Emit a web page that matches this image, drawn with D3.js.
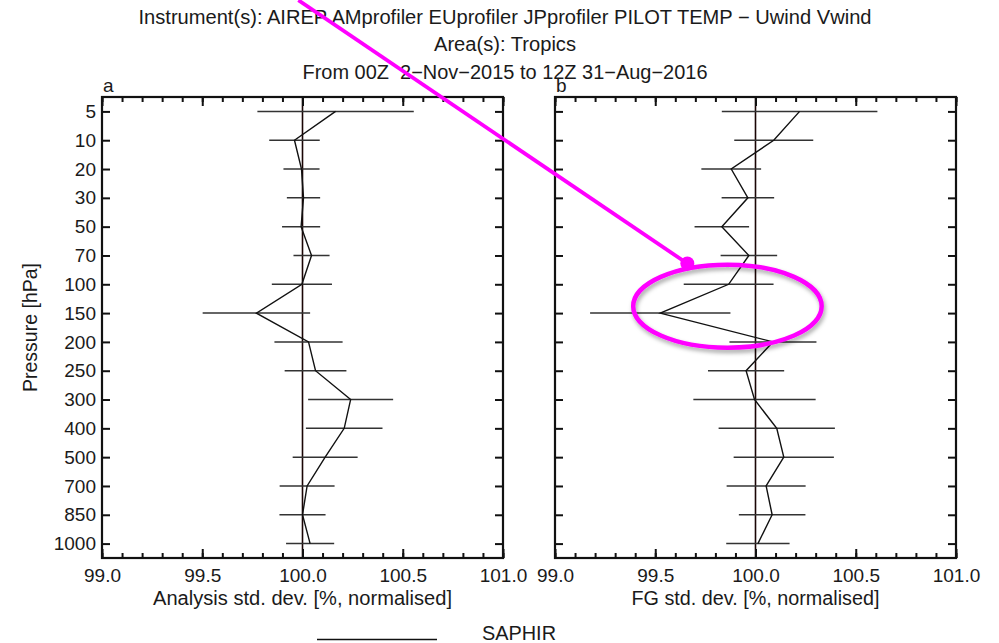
<!DOCTYPE html>
<html>
<head>
<meta charset="utf-8">
<script src="https://cdn.jsdelivr.net/npm/d3@7"></script>
<style>
  html, body { margin: 0; padding: 0; background: #fff; }
  svg { display: block; }
  text { font-family: "Liberation Sans", Arial, Helvetica, sans-serif; fill: #1a1a1a; }
</style>
</head>
<body>
<svg id="chart" width="999" height="643"></svg>
<script>
// ---------------- data ----------------
const levels = ["5","10","20","30","50","70","100","150","200","250","300","400","500","700","850","1000"];
const analysisMean = [100.165, 99.96, 99.995, 100.005, 99.993, 100.045, 99.997, 99.77, 100.03, 100.065, 100.24, 100.208, 100.113, 100.023, 100.0, 100.038];
const analysisErr  = [0.39, 0.126, 0.09, 0.083, 0.095, 0.09, 0.15, 0.268, 0.17, 0.154, 0.212, 0.191, 0.162, 0.137, 0.115, 0.12];
const fgMean = [100.22, 100.091, 99.879, 99.962, 99.832, 99.967, 99.866, 99.525, 100.087, 99.953, 99.995, 100.106, 100.141, 100.053, 100.083, 100.012];
const fgErr  = [0.388, 0.197, 0.149, 0.131, 0.136, 0.141, 0.224, 0.35, 0.217, 0.19, 0.305, 0.29, 0.25, 0.197, 0.166, 0.158];
const xMajorTicks = [99.0, 99.5, 100.0, 100.5, 101.0];
const xMinorTicks = d3.range(0, 21).map(i => +(99 + i * 0.1).toFixed(1));
const titleLines = [
  "Instrument(s): AIREP AMprofiler EUprofiler JPprofiler PILOT TEMP \u2212 Uwind Vwind",
  "Area(s): Tropics",
  "From 00Z  2\u2212Nov\u22122015 to 12Z 31\u2212Aug\u22122016"
];
const panelLetters = ["a", "b"];
const xLabels = ["Analysis std. dev. [%, normalised]", "FG std. dev. [%, normalised]"];
const yLabel = "Pressure [hPa]";
const legendName = "SAPHIR";

// ---------------- layout ----------------
const svg = d3.select("#chart");
const yTop = 97, yBottom = 558;
const panels = [
  { left: 102, right: 503, mean: analysisMean, err: analysisErr, letter: panelLetters[0], xlabel: xLabels[0], xlabelLen: 299, yLabels: true },
  { left: 555, right: 956, mean: fgMean, err: fgErr, letter: panelLetters[1], xlabel: xLabels[1], xlabelLen: 248, yLabels: false }
];
const FS = 19;
const TFS = 19.5;
const titleLens = [733, 142, 405];

const y = d3.scalePoint().domain(levels).range([yTop, yBottom]).padding(0.5);

// titles
svg.append("g").selectAll("text").data(titleLines).join("text")
  .attr("x", 505).attr("y", (d, i) => 23.5 + i * 27.7)
  .attr("text-anchor", "middle").style("font-size", TFS + "px")
  .style("white-space", "pre").attr("xml:space", "preserve")
  .attr("textLength", (d, i) => titleLens[i]).attr("lengthAdjust", "spacingAndGlyphs")
  .text(d => d);

panels.forEach(p => {
  const x = d3.scaleLinear().domain([99, 101]).range([p.left, p.right]);
  p.x = x;
  const g = svg.append("g");

  // vertical reference line at 100
  g.append("line")
    .attr("x1", x(100)).attr("x2", x(100)).attr("y1", yTop).attr("y2", yBottom)
    .attr("stroke", "#1a0505").attr("stroke-width", 1.6);

  // error bars
  g.append("g").selectAll("line").data(levels).join("line")
    .attr("x1", (d, i) => x(p.mean[i] - p.err[i]))
    .attr("x2", (d, i) => x(p.mean[i] + p.err[i]))
    .attr("y1", d => y(d)).attr("y2", d => y(d))
    .attr("stroke", "#333").attr("stroke-width", 1.5);

  // profile line
  g.append("path")
    .datum(levels)
    .attr("fill", "none").attr("stroke", "#111").attr("stroke-width", 1.4)
    .attr("d", d3.line().x((d, i) => x(p.mean[i])).y(d => y(d)));

  // axes: bottom
  g.append("g").attr("transform", `translate(0,${yBottom})`)
    .call(d3.axisBottom(x).tickValues(xMinorTicks).tickSize(-5).tickFormat(""))
    .call(a => a.select(".domain").remove());
  g.append("g").attr("transform", `translate(0,${yBottom})`)
    .call(d3.axisBottom(x).tickValues(xMajorTicks).tickSize(-9).tickPadding(11).tickFormat(d3.format(".1f")))
    .call(a => a.select(".domain").remove())
    .call(a => a.selectAll("text").style("font-size", FS + "px").attr("fill", "#1a1a1a"));
  // top
  g.append("g").attr("transform", `translate(0,${yTop})`)
    .call(d3.axisTop(x).tickValues(xMinorTicks).tickSize(-5).tickFormat(""))
    .call(a => a.select(".domain").remove());
  g.append("g").attr("transform", `translate(0,${yTop})`)
    .call(d3.axisTop(x).tickValues(xMajorTicks).tickSize(-9).tickFormat(""))
    .call(a => a.select(".domain").remove());
  // left
  const leftAx = g.append("g").attr("transform", `translate(${p.left},0)`)
    .call(d3.axisLeft(y).tickSize(-8).tickPadding(6))
    .call(a => a.select(".domain").remove());
  leftAx.selectAll("text").style("font-size", FS + "px").attr("fill", "#1a1a1a");
  if (!p.yLabels) leftAx.selectAll("text").remove();
  // right
  g.append("g").attr("transform", `translate(${p.right},0)`)
    .call(d3.axisRight(y).tickSize(-8).tickFormat(""))
    .call(a => a.select(".domain").remove());

  g.selectAll(".tick line").attr("stroke", "#111").attr("stroke-width", 2);

  // frame
  g.append("rect")
    .attr("x", p.left).attr("y", yTop).attr("width", p.right - p.left).attr("height", yBottom - yTop)
    .attr("fill", "none").attr("stroke", "#111").attr("stroke-width", 2.2);

  // panel letter
  g.append("text").attr("x", p.left + 1).attr("y", 92).style("font-size", FS + "px").text(p.letter);

  // x label
  g.append("text").attr("x", (p.left + p.right) / 2).attr("y", 605)
    .attr("text-anchor", "middle").style("font-size", TFS + "px")
    .attr("textLength", p.xlabelLen).attr("lengthAdjust", "spacingAndGlyphs")
    .text(p.xlabel);
});

// y label
svg.append("text")
  .attr("transform", `translate(37,${(yTop + yBottom) / 2}) rotate(-90)`)
  .attr("text-anchor", "middle").style("font-size", TFS + "px").text(yLabel);

// legend
svg.append("line").attr("x1", 317).attr("x2", 437).attr("y1", 639.5).attr("y2", 639.5)
  .attr("stroke", "#111").attr("stroke-width", 1.6);
svg.append("text").attr("x", 482).attr("y", 639.5).style("font-size", TFS + "px")
  .attr("textLength", 74).attr("lengthAdjust", "spacingAndGlyphs").text(legendName);

// ---------------- annotation overlay (magenta) ----------------
const pb = panels[1];
const step = y.step();
const yAt = idx => y(levels[0]) + idx * step;   // fractional level index
const annDot = { x: 99.66, idx: 5.28 };
const annStart = { x: 97.72, idx: -3.86 };
const annEllipse = { cx: 99.86, idx: 6.76, rx: 0.47, ry: 41.5 };

const defs = svg.append("defs");
const f = defs.append("filter").attr("id", "shadow").attr("x", "-20%").attr("y", "-30%").attr("width", "140%").attr("height", "160%");
f.append("feDropShadow").attr("dx", 1.5).attr("dy", 3).attr("stdDeviation", 2.2)
  .attr("flood-color", "#000").attr("flood-opacity", 0.35);

const ann = svg.append("g");
ann.append("ellipse")
  .attr("cx", pb.x(annEllipse.cx)).attr("cy", yAt(annEllipse.idx))
  .attr("rx", pb.x(99 + annEllipse.rx) - pb.x(99)).attr("ry", annEllipse.ry)
  .attr("fill", "none").attr("stroke", "#ff00ff").attr("stroke-width", 4.5)
  .attr("filter", "url(#shadow)");
ann.append("line")
  .attr("x1", pb.x(annStart.x)).attr("y1", yAt(annStart.idx))
  .attr("x2", pb.x(annDot.x)).attr("y2", yAt(annDot.idx))
  .attr("stroke", "#ff00ff").attr("stroke-width", 3.8);
ann.append("circle")
  .attr("cx", pb.x(annDot.x)).attr("cy", yAt(annDot.idx)).attr("r", 7)
  .attr("fill", "#ff00ff");
</script>
</body>
</html>
